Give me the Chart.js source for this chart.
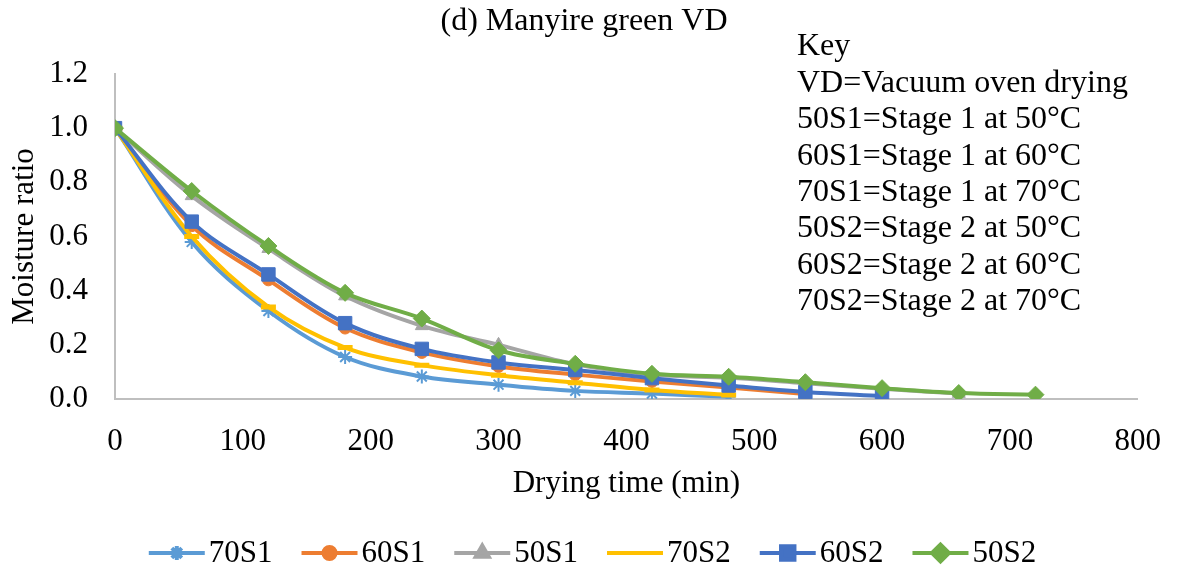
<!DOCTYPE html>
<html>
<head>
<meta charset="utf-8">
<script src="https://cdn.jsdelivr.net/npm/chart.js@4.4.0/dist/chart.umd.min.js"></script>
<style>
  html, body { margin: 0; padding: 0; background: #fff; }
</style>
</head>
<body>
<canvas id="myChart" width="1185" height="573"></canvas>
<script>
// drying time (min) for every reading
const times = [0, 60, 120, 180, 240, 300, 360, 420, 480, 540, 600, 660, 720];

const seriesNames = ['70S1', '60S1', '50S1', '70S2', '60S2', '50S2'];

// moisture ratio
const mr70S1 = [1.0, 0.58, 0.325, 0.155, 0.083, 0.053, 0.03, 0.02, 0.008];
const mr60S1 = [1.0, 0.64, 0.44, 0.262, 0.172, 0.12, 0.09, 0.065, 0.042, 0.018];
const mr50S1 = [1.0, 0.75, 0.555, 0.38, 0.27, 0.2, 0.128, 0.09, 0.078, 0.058, 0.038, 0.02];
const mr70S2 = [1.0, 0.6, 0.34, 0.19, 0.125, 0.088, 0.06, 0.033, 0.015];
const mr60S2 = [1.0, 0.655, 0.46, 0.28, 0.185, 0.135, 0.107, 0.077, 0.05, 0.026, 0.011];
const mr50S2 = [1.0, 0.768, 0.565, 0.392, 0.297, 0.18, 0.13, 0.093, 0.082, 0.062, 0.04, 0.022, 0.016];

const xTicks = [0, 100, 200, 300, 400, 500, 600, 700, 800];
const yTicks = [0.0, 0.2, 0.4, 0.6, 0.8, 1.0, 1.2];

const chartTitle = '(d) Manyire green VD';
const keyLines = [
	'Key',
	'VD=Vacuum oven drying',
	'50S1=Stage 1 at 50°C',
	'60S1=Stage 1 at 60°C',
	'70S1=Stage 1 at 70°C',
	'50S2=Stage 2 at 50°C',
	'60S2=Stage 2 at 60°C',
	'70S2=Stage 2 at 70°C',
];

const allValues = [mr70S1, mr60S1, mr50S1, mr70S2, mr60S2, mr50S2];
const colors = ['#5B9BD5', '#ED7D31', '#A5A5A5', '#FFC000', '#4472C4', '#70AD47'];
const markers = [
	{ style: 'star', radius: 7, border: 2 },
	{ style: 'circle', radius: 6, border: 1 },
	{ style: 'triangle', radius: 7.5, border: 1 },
	{ style: 'line', radius: 7.5, border: 5 },
	{ style: 'rect', radius: 9.5, border: 1 },
	{ style: 'rectRot', radius: 8.5, border: 1 },
];

const FONT = 'Liberation Serif';
const ctx = document.getElementById('myChart').getContext('2d');

const datasets = seriesNames.map((name, i) => ({
	label: name,
	data: allValues[i].map((v, j) => ({ x: times[j], y: v })),
	borderColor: colors[i],
	backgroundColor: colors[i],
	borderWidth: 4,
	tension: 0.35,
	pointStyle: markers[i].style,
	pointRadius: markers[i].radius,
	pointBorderWidth: markers[i].border,
	pointBackgroundColor: colors[i],
	pointBorderColor: colors[i],
	order: seriesNames.length - i,
}));

const extras = {
	id: 'extras',
	afterDraw(chart) {
		const c = chart.ctx;
		c.save();
		c.fillStyle = '#000';
		c.textBaseline = 'middle';

		// title
		c.font = '32px "' + FONT + '"';
		c.textAlign = 'center';
		c.fillText(chartTitle, 584, 22);

		// key text
		c.textAlign = 'left';
		keyLines.forEach((t, i) => c.fillText(t, 797, 47 + i * 36.4));

		// legend: line sample with marker, then name
		c.font = '31px "' + FONT + '"';
		const lineW = 56, gapText = 4, gapItem = 29, ly = 553;
		const widths = seriesNames.map((n) => lineW + gapText + c.measureText(n).width);
		const total = widths.reduce((a, b) => a + b, 0) + gapItem * (widths.length - 1);
		let x = (chart.width - total) / 2;
		chart.data.datasets.forEach((ds, i) => {
			c.strokeStyle = ds.borderColor;
			c.lineWidth = 4;
			c.beginPath();
			c.moveTo(x, ly);
			c.lineTo(x + lineW, ly);
			c.stroke();
			c.fillStyle = ds.borderColor;
			Chart.helpers.drawPoint(c, {
				pointStyle: ds.pointStyle,
				radius: ds.pointRadius,
				rotation: 0,
				borderWidth: ds.pointBorderWidth,
			}, x + lineW / 2, ly);
			c.fillStyle = '#000';
			c.fillText(ds.label, x + lineW + gapText, ly + 1);
			x += widths[i] + gapItem;
		});
		c.restore();
	},
};

const config = {
	type: 'line',
	data: { datasets },
	options: {
		responsive: false,
		animation: false,
		layout: { padding: { top: 74, right: 44, bottom: 63, left: 0 } },
		plugins: {
			legend: { display: false },
			tooltip: { enabled: false },
		},
		scales: {
			x: {
				type: 'linear',
				min: 0,
				max: 800,
				afterBuildTicks: (scale) => {
					scale.ticks = xTicks.map((v) => ({ value: v }));
				},
				afterFit: (scale) => {
					scale.height = 111;
				},
				grid: { color: 'rgba(0,0,0,0)', drawTicks: false },
				border: { display: true, color: '#BFBFBF', width: 2 },
				ticks: {
					color: '#000',
					padding: 24,
					maxRotation: 0,
					font: { family: FONT, size: 31 },
				},
				title: {
					display: true,
					text: 'Drying time (min)',
					color: '#000',
					font: { family: FONT, size: 31 },
					padding: { top: 0, bottom: 8 },
				},
			},
			y: {
				min: 0,
				max: 1.2,
				afterBuildTicks: (scale) => {
					scale.ticks = yTicks.map((v) => ({ value: v }));
				},
				afterFit: (scale) => {
					scale.width = 115;
				},
				grid: { color: 'rgba(0,0,0,0)', drawTicks: false },
				border: { display: true, color: '#BFBFBF', width: 2 },
				ticks: {
					color: '#000',
					padding: 27,
					font: { family: FONT, size: 31 },
					callback: (v) => Number(v).toFixed(1),
				},
				title: {
					display: true,
					text: 'Moisture ratio',
					color: '#000',
					font: { family: FONT, size: 31 },
					padding: { top: 6, bottom: 0 },
				},
			},
		},
	},
	plugins: [extras],
};

const myChart = new Chart(ctx, config);
</script>
</body>
</html>
